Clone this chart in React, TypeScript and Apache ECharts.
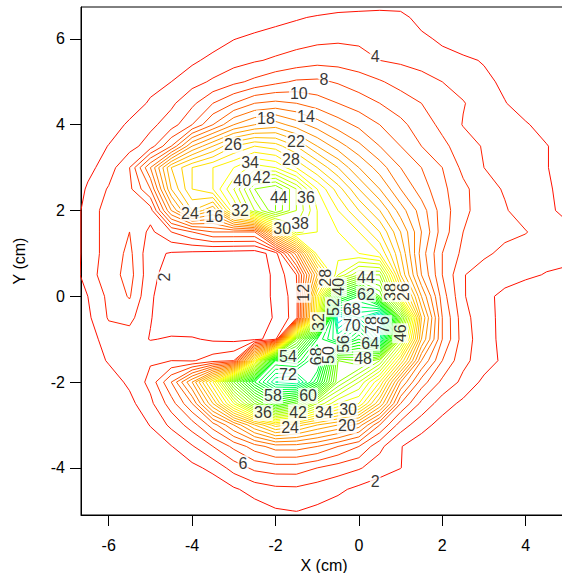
import React, { useEffect, useRef } from "react";
import * as echarts from "echarts";

// Sample positions (cm)
const xNodes = [-7, -6.5, -6, -5.5, -5, -4.5, -4, -3.5, -3, -2.5, -2, -1.5, -1, -0.5, 0, 0.5, 1, 1.5, 2, 2.5, 3, 3.5, 4, 4.5, 5, 5.5];
const yNodes = [7, 6.5, 6, 5.5, 5, 4.5, 4, 3.5, 3, 2.5, 2, 1.5, 1, 0.5, 0, -0.5, -1, -1.5, -2, -2.5, -3, -3.5, -4, -4.5, -5, -5.5];

// Measured values, one row per yNodes entry, one column per xNodes entry
const zRows: number[][] = [
  [0, 0, 0, 0, 0, 0, 0, 0, 0, 0, 0, 0, 0, 0, 0, 0, 0, 0, 0, 0, 0, 0, 0, 0, 0, 0],
  [0, 0, 0, 0, 0, 0, 0, 0, 0.5, 1, 1.4, 1.8, 2.2, 2.6, 2.8, 3, 2.8, 1, 0, 0, 0, 0, 0, 0, 0, 0],
  [0, 0, 0, 0, 0, 0, 0, 1.0, 1.95, 2.4, 2.8, 3.2, 3.5, 3.7, 3.6, 3.5, 3.2, 2.6, 1.5, 0.5, 0, 0, 0, 0, 0, 0],
  [0, 0, 0, 0, 0, 0.8, 1.6, 2.6, 3.2, 3.8, 4.3, 4.8, 5.3, 5.2, 4.8, 4.0, 3.7, 3.4, 3.0, 2.5, 1.8, 0.8, 0, 0, 0, 0],
  [0, 0, 0, 0.3, 1.2, 2.0, 3.3, 4.3, 5.5, 6.5, 7.5, 8.3, 8.4, 7.8, 7.0, 6.2, 5.3, 4.6, 4.0, 3.4, 2.6, 1.5, 0.5, 0, 0, 0],
  [0, 0, 0, 0.8, 2.3, 3.6, 5.5, 8, 10, 12, 12.5, 12, 11, 10, 9, 8, 7, 6, 5, 4.1, 3.2, 2.1, 1, 0, 0, 0],
  [0, 0, 0.8, 2.4, 3.5, 5, 8, 12, 16, 18, 19, 17, 15, 13, 11.5, 10, 8.5, 7, 5.5, 3.9, 3.2, 2.7, 2.2, 1.2, 0.3, 0],
  [0, 0.5, 2.1, 3.2, 5, 10, 18, 22, 26, 28, 27, 24, 20, 17, 14.5, 12, 10, 8, 6.5, 5, 3.8, 3.2, 2.6, 2.1, 1.0, 0],
  [0, 1.4, 3, 6, 14, 24, 28, 30, 32, 35, 34, 30, 26, 22, 18, 15, 12, 10, 8, 5.5, 4.0, 3.6, 2.9, 2.1, 1.0, 0],
  [0, 2.3, 4.2, 5.5, 10, 22, 28, 30, 36, 44, 46, 40, 32, 27, 22, 18, 14, 11, 8.5, 6.5, 4.8, 3.8, 2.8, 2.2, 1.5, 0.5],
  [0, 3, 4.8, 5.5, 5, 16, 24, 20, 32, 40, 46, 40, 34, 30, 26, 22, 17, 13, 9, 6.5, 5, 4.2, 3, 2.3, 1.6, 0.8],
  [0, 3, 4.8, 6, 3.5, 6, 8, 10, 10, 10, 25, 37, 34, 32, 30, 26, 20, 14, 9, 6, 4.8, 4.4, 4.1, 3, 2.4, 1.5],
  [0, 3, 4.8, 6.5, 2.6, 1.8, 1.5, 1.2, 1.0, 0.8, 3, 15, 33, 33, 32, 30, 22, 13, 8, 5.5, 4.3, 3.6, 3.0, 2.6, 2.3, 1.5],
  [0, 3.2, 5, 6.8, 2.6, 1.0, 0.5, 0.3, 0.3, 0.5, 2.5, 6, 22, 36, 42, 42, 24, 14, 8, 4.1, 3.2, 2.8, 2.3, 1.9, 1.8, 1.0],
  [0, 2.0, 4.5, 6.2, 2.2, 1.0, 0.3, 0.2, 0.2, 0.5, 2.5, 5, 30, 56, 64, 50, 31, 18, 9, 4.2, 2.5, 1.5, 1.0, 0.5, 0.2, 0],
  [0, 1.6, 4.2, 4.6, 2.1, 0.8, 0.3, 0.2, 0.2, 0.4, 2.3, 5, 32, 78, 72, 81, 48, 22, 10, 4.8, 2.6, 1.5, 0.8, 0.3, 0, 0],
  [0, 1.2, 2.8, 3.0, 1.9, 2.2, 2.2, 1.7, 1.5, 1.4, 3, 45, 62, 70, 62, 72, 40, 20, 10, 5, 2.8, 1.4, 0.6, 0, 0, 0],
  [0, 0.8, 2.2, 2.9, 3.8, 4, 3.8, 5, 6, 30, 62, 60, 70, 46, 48, 42, 28, 14, 8, 4.5, 3.0, 1.5, 0.5, 0, 0, 0],
  [0, 0, 1.0, 2.4, 4.6, 10, 18, 30, 48, 62, 72, 74, 62, 44, 38, 30, 16, 9, 5.5, 3.5, 1.5, 0.5, 0, 0, 0, 0],
  [0, 0, 0, 1.4, 3.5, 7, 12, 22, 34, 46, 55, 50, 40, 34, 32, 22, 10, 5.5, 3, 1.5, 0.5, 0, 0, 0, 0, 0],
  [0, 0, 0, 0.5, 2.1, 4.5, 7, 11, 16, 22, 27, 25, 22, 20, 17, 10, 5, 2.8, 1.2, 0.3, 0, 0, 0, 0, 0, 0],
  [0, 0, 0, 0, 0.8, 1.9, 3.8, 6, 8.5, 11, 13, 13, 12, 10, 8, 4.5, 2.1, 0.8, 0, 0, 0, 0, 0, 0, 0, 0],
  [0, 0, 0, 0, 0, 0.5, 1.4, 2.6, 4.8, 6.5, 7, 7, 6, 5, 4.2, 3.0, 2.05, 0.5, 0, 0, 0, 0, 0, 0, 0, 0],
  [0, 0, 0, 0, 0, 0, 0, 0.5, 1.7, 2.8, 3.5, 3.6, 3.0, 2.4, 1.5, 0.8, 0.3, 0, 0, 0, 0, 0, 0, 0, 0, 0],
  [0, 0, 0, 0, 0, 0, 0, 0, 0.5, 1.0, 1.8, 2.05, 1.6, 1.0, 0.5, 0, 0, 0, 0, 0, 0, 0, 0, 0, 0, 0],
  [0, 0, 0, 0, 0, 0, 0, 0, 0, 0, 0, 0, 0, 0, 0, 0, 0, 0, 0, 0, 0, 0, 0, 0, 0, 0],
];

const levels = [2, 4, 6, 8, 10, 12, 14, 16, 18, 20, 22, 24, 26, 28, 30, 32, 34, 36, 38, 40,
  42, 44, 46, 48, 50, 52, 54, 56, 58, 60, 62, 64, 66, 68, 70, 72, 74, 76, 78, 80];

// Contour labels [x, y, level]
const flatLabels: [number, number, number][] = [
  [0.39, 5.58, 4], [-0.84, 5.06, 8], [-1.44, 4.72, 10], [-1.27, 4.2, 14], [-2.23, 4.15, 18],
  [-1.51, 3.62, 22], [-3.02, 3.53, 26], [-1.63, 3.18, 28], [-2.61, 3.13, 34], [-2.33, 2.76, 42],
  [-2.8, 2.71, 40], [-1.92, 2.31, 44], [-1.27, 2.31, 36], [-4.05, 1.94, 24], [-3.47, 1.85, 16],
  [-2.85, 1.99, 32], [-1.41, 1.69, 38], [-1.84, 1.59, 30], [0.17, 0.45, 44], [0.17, 0.05, 62],
  [-0.17, -0.3, 68], [-0.17, -0.67, 70], [0.27, -1.09, 64], [0.1, -1.46, 48], [-1.7, -1.41, 54],
  [-1.7, -1.83, 72], [-2.06, -2.32, 58], [-1.22, -2.32, 60], [-2.3, -2.72, 36], [-1.46, -2.7, 42],
  [-0.84, -2.72, 34], [-0.26, -2.63, 30], [-1.65, -3.05, 24], [-0.29, -3.02, 20], [-2.78, -3.89, 6],
  [0.39, -4.31, 2],
];
const uprightLabels: [number, number, number][] = [
  [-4.65, 0.45, 2], [-1.34, 0.08, 12], [-0.79, 0.43, 28], [-0.48, 0.22, 40], [-0.62, -0.25, 52],
  [-0.98, -0.6, 32], [-1.02, -1.4, 68], [-0.72, -1.37, 50], [-0.36, -1.11, 56], [0.31, -0.67, 78],
  [0.6, -0.67, 76], [0.75, 0.1, 38], [1.06, 0.1, 26], [0.99, -0.86, 46],
];

const xTicks = [-6, -4, -2, 0, 2, 4];
const yTicks = [-4, -2, 0, 2, 4, 6];

const FONT = "'Liberation Sans', Arial, Helvetica, sans-serif";

const colorStops: [number, number, number, number][] = [
  [0, 255, 0, 0],
  [32, 255, 255, 0],
  [60, 0, 255, 0],
  [72, 0, 255, 140],
  [78, 0, 210, 255],
  [84, 0, 100, 255],
];

function levelColor(v: number): string {
  for (let i = 1; i < colorStops.length; i++) {
    const a = colorStops[i - 1], b = colorStops[i];
    if (v <= b[0]) {
      const t = (v - a[0]) / (b[0] - a[0]);
      const c = [1, 2, 3].map((k) => Math.round(a[k] + t * (b[k] - a[k])));
      return `rgb(${c[0]},${c[1]},${c[2]})`;
    }
  }
  const l = colorStops[colorStops.length - 1];
  return `rgb(${l[1]},${l[2]},${l[3]})`;
}

// Marching squares over the sample grid, stitched into polylines
function traceLevel(level: number): number[][][] {
  const nr = yNodes.length, nc = xNodes.length;
  const pos = new Map<string, number[]>();
  const adj = new Map<string, string[]>();
  const at = (r: number, c: number, r2: number, c2: number) => {
    const key = r + "_" + c + "_" + r2 + "_" + c2;
    if (!pos.has(key)) {
      const a = zRows[r][c], b = zRows[r2][c2];
      const t = (level - a) / (b - a);
      pos.set(key, [xNodes[c] + t * (xNodes[c2] - xNodes[c]), yNodes[r] + t * (yNodes[r2] - yNodes[r])]);
    }
    return key;
  };
  const link = (a: string, b: string) => {
    if (!adj.has(a)) adj.set(a, []);
    if (!adj.has(b)) adj.set(b, []);
    adj.get(a)!.push(b);
    adj.get(b)!.push(a);
  };
  const hi = (v: number) => v >= level;
  for (let r = 0; r < nr - 1; r++) {
    for (let c = 0; c < nc - 1; c++) {
      const tl = zRows[r][c], tr = zRows[r][c + 1], br = zRows[r + 1][c + 1], bl = zRows[r + 1][c];
      const cut: string[] = [];
      if (hi(tl) !== hi(tr)) cut.push(at(r, c, r, c + 1));
      if (hi(tr) !== hi(br)) cut.push(at(r, c + 1, r + 1, c + 1));
      if (hi(bl) !== hi(br)) cut.push(at(r + 1, c, r + 1, c + 1));
      if (hi(tl) !== hi(bl)) cut.push(at(r, c, r + 1, c));
      if (cut.length === 2) link(cut[0], cut[1]);
      else if (cut.length === 4) {
        const centreHi = (tl + tr + br + bl) / 4 >= level;
        if (hi(tl) === centreHi) {
          link(cut[0], cut[1]);
          link(cut[2], cut[3]);
        } else {
          link(cut[3], cut[0]);
          link(cut[1], cut[2]);
        }
      }
    }
  }
  const used = new Set<string>();
  const pairKey = (a: string, b: string) => (a < b ? a + "|" + b : b + "|" + a);
  const walk = (start: string) => {
    const line = [pos.get(start)!];
    let cur = start;
    for (;;) {
      let next: string | undefined;
      for (const n of adj.get(cur)!) {
        const k = pairKey(cur, n);
        if (!used.has(k)) {
          used.add(k);
          next = n;
          break;
        }
      }
      if (next === undefined) break;
      line.push(pos.get(next)!);
      cur = next;
    }
    return line;
  };
  const lines: number[][][] = [];
  for (const [k, n] of adj) if (n.length === 1 && !used.has(pairKey(k, n[0]))) lines.push(walk(k));
  for (const [k, n] of adj) {
    if (n.some((m) => !used.has(pairKey(k, m)))) lines.push(walk(k));
  }
  return lines;
}

export default function App() {
  const ref = useRef<HTMLDivElement>(null);

  useEffect(() => {
    if (!ref.current) return;
    const chart = echarts.init(ref.current, undefined, { renderer: "svg" });

    const contourSeries: any[] = [];
    levels.forEach((lv) => {
      const color = levelColor(lv);
      traceLevel(lv).forEach((line) => {
        contourSeries.push({
          type: "line",
          data: line,
          symbol: "none",
          showSymbol: false,
          silent: true,
          z: 2,
          lineStyle: { color, width: 1 },
        });
      });
    });

    const labelBase = {
      show: true,
      position: "inside",
      color: "#000",
      fontSize: 16,
      fontFamily: FONT,
      backgroundColor: "#fff",
      padding: [0, 1, 0, 1],
      formatter: (p: any) => String(p.value[2]),
    };

    chart.setOption({
      animation: false,
      backgroundColor: "#fff",
      grid: {
        left: 81,
        right: -5,
        top: 7,
        bottom: 58,
        containLabel: false,
        outerBoundsMode: "none",
        show: true,
        borderColor: "#000",
        borderWidth: 1,
        backgroundColor: "transparent",
      },
      xAxis: {
        type: "value",
        min: -6.664,
        max: 4.99,
        axisLine: { show: true, onZero: false, lineStyle: { color: "#000", width: 1 } },
        axisTick: { show: true, length: 11, customValues: xTicks, lineStyle: { color: "#000" } },
        axisLabel: { customValues: xTicks, color: "#000", fontSize: 16, fontFamily: FONT, margin: 22 },
        splitLine: { show: false },
        name: "X (cm)",
        nameLocation: "middle",
        nameGap: 40,
        nameTextStyle: { color: "#000", fontSize: 16, fontFamily: FONT },
      },
      yAxis: {
        type: "value",
        min: -5.098,
        max: 6.744,
        axisLine: { show: true, onZero: false, lineStyle: { color: "#000", width: 1 } },
        axisTick: { show: true, length: 11, customValues: yTicks, lineStyle: { color: "#000" } },
        axisLabel: { customValues: yTicks, color: "#000", fontSize: 16, fontFamily: FONT, margin: 16 },
        splitLine: { show: false },
        name: "Y (cm)",
        nameLocation: "middle",
        nameGap: 54,
        nameRotate: 90,
        nameTextStyle: { color: "#000", fontSize: 16, fontFamily: FONT },
      },
      series: [
        ...contourSeries,
        {
          type: "scatter",
          data: flatLabels,
          symbolSize: 1,
          silent: true,
          z: 10,
          itemStyle: { color: "transparent" },
          label: labelBase,
        },
        {
          type: "scatter",
          data: uprightLabels,
          symbolSize: 1,
          silent: true,
          z: 10,
          itemStyle: { color: "transparent" },
          label: { ...labelBase, rotate: 90 },
        },
      ],
    });

    return () => chart.dispose();
  }, []);

  return <div ref={ref} style={{ position: "fixed", left: 0, top: 0, width: 562, height: 573 }} />;
}
